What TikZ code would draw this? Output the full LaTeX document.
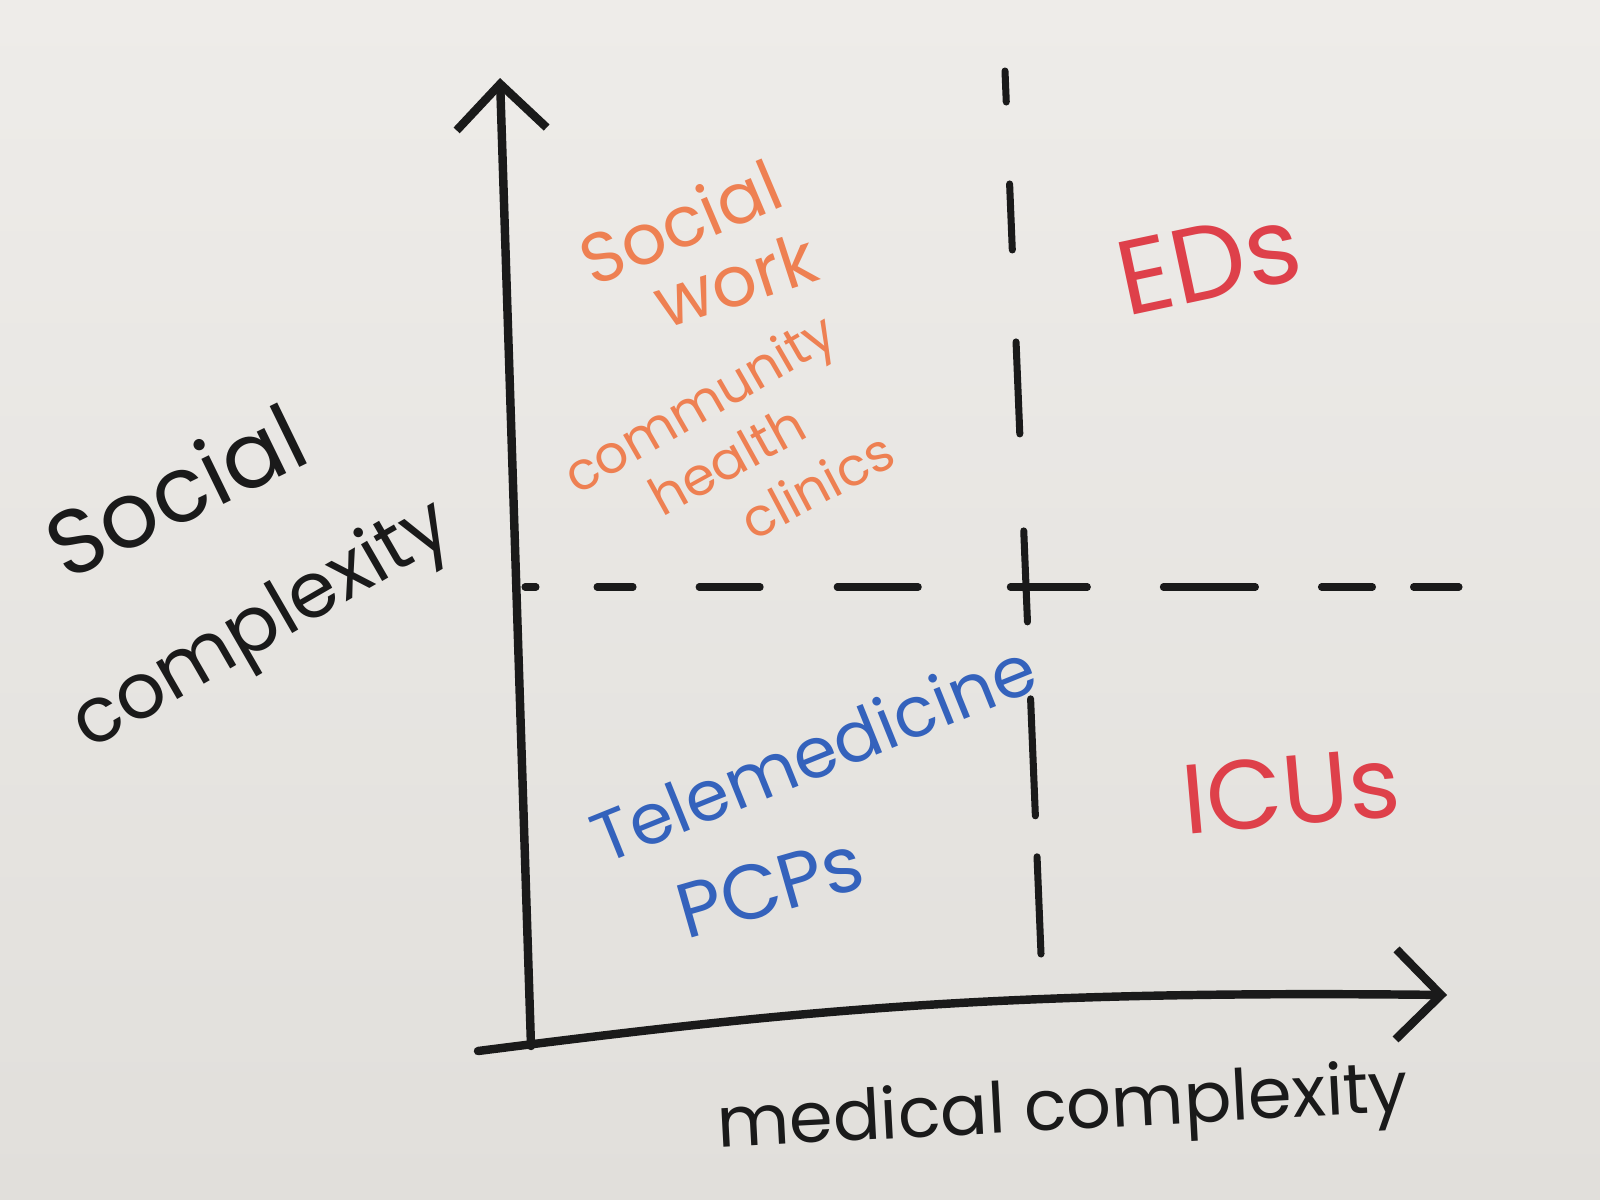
\documentclass[tikz,border=0pt]{standalone}
\usepackage{fontspec}
\setmainfont{Poppins}
\usetikzlibrary{arrows.meta,positioning}
\definecolor{boardtop}{RGB}{238,236,233}
\definecolor{boardbot}{RGB}{225,223,219}
\definecolor{ink}{RGB}{26,26,26}
\definecolor{orangeink}{RGB}{238,128,82}
\definecolor{redink}{RGB}{222,64,74}
\definecolor{blueink}{RGB}{52,98,188}
\tikzset{
  axis/.style={draw=ink,line width=2.4pt,line cap=round},
  gridline/.style={draw=ink,line width=2pt,line cap=round},
  penlabel/.style={font=\fontsize{20}{22}\selectfont,inner sep=0pt},
  smallpen/.style={penlabel,text=orangeink,font=\fontsize{15}{17}\selectfont},
}
\begin{document}
\begin{tikzpicture}[x=0.01cm,y=-0.01cm,>={Straight Barb[length=0.45cm,width=0.9cm,line width=2.4pt]}]
%%
\fill[top color=boardtop,bottom color=boardbot] (0,0) rectangle (1600,1200);
\useasboundingbox (0,0) rectangle (1600,1200);
%% axes
\coordinate (ybot) at (531,1046);
\coordinate (ytop) at (500,78);
\coordinate (xbeg) at (478,1051);
\coordinate (xend) at (1447,995);
\draw [axis,->] (ybot) -- (ytop);
\draw [axis,->] (xbeg) .. controls (800,1010) and (1000,990) .. (xend);
%% quadrant lines
\coordinate (hleft) at (525,587);
\coordinate (hright) at (1459,587);
\coordinate (vtop) at (1005,71);
\coordinate (vbot) at (1041,954);
\draw [gridline,dash pattern=on 0.11cm off 0.61cm on 0.36cm off 0.66cm on 0.61cm off 0.77cm
  on 0.81cm off 0.92cm on 0.77cm off 0.76cm on 0.92cm off 0.66cm on 0.51cm off 0.41cm on 0.5cm off 1cm]
  (hleft) -- (hright);
\draw [gridline,dash pattern=on 0.31cm off 0.82cm on 0.66cm off 0.92cm on 0.92cm off 0.97cm
  on 0.91cm off 0.77cm on 1.17cm off 0.41cm on 1cm off 1cm]
  (vtop) -- (vbot);
%% upper left quadrant
\node (social) at (680,222) [penlabel,text=orangeink,rotate=23] {Social};
\node (work) at (735,280) [penlabel,text=orangeink,rotate=18] {work};
\node (community) at (702,408) [smallpen,rotate=30] {community};
\node (health) at (727,460) [smallpen,rotate=29] {health};
\node (clinics) at (817,485) [smallpen,rotate=28] {clinics};
%% right quadrants
\node (eds) at (1209,262) [penlabel,text=redink,rotate=12,font=\fontsize{30}{32}\selectfont] {EDs};
\node (icus) at (1291,791) [penlabel,text=redink,rotate=5,font=\fontsize{28}{30}\selectfont] {ICUs};
%% lower left quadrant
\node (tele) at (813,752) [penlabel,text=blueink,rotate=22] {Telemedicine};
\node (pcps) at (770,887) [penlabel,text=blueink,rotate=16,font=\fontsize{22}{24}\selectfont] {PCPs};
%% axis names
\node (ysocial) at (175,490) [penlabel,text=ink,rotate=26,font=\fontsize{26}{28}\selectfont] {Social};
\node (ycomplex) at (263,628) [penlabel,text=ink,rotate=30,font=\fontsize{22}{24}\selectfont] {complexity};
\node (xlabel) at (1063,1112) [penlabel,text=ink,rotate=3] {medical complexity};
%
\end{tikzpicture}
\end{document}
